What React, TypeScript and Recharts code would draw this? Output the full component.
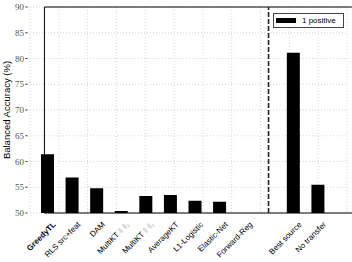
import React from 'react';
import {
  ComposedChart,
  Bar,
  XAxis,
  YAxis,
  CartesianGrid,
  ReferenceLine,
  ReferenceArea,
} from 'recharts';

// category slots, the empty one holds the dashed separator
const CATEGORIES = [
  'GreedyTL',
  'RLS src+feat',
  'DAM',
  'MultiKT ‖·‖₂',
  'MultiKT ‖·‖₁',
  'AverageKT',
  'L1-Logistic',
  'Elastic-Net',
  'Forward-Reg',
  'sep',
  'Best source',
  'No transfer',
];
const ONE_POSITIVE = [61.4, 56.9, 54.8, 50.4, 53.3, 53.5, 52.4, 52.2, 50, null, 81.1, 55.5];
const Y_TICKS = [50, 55, 60, 65, 70, 75, 80, 85, 90];
const GRID_X = [1, 2, 3, 4, 5, 6, 7, 8, 9, 10, 11, 12];

const data = CATEGORIES.map((c, i) => ({ name: c, v: ONE_POSITIVE[i] }));

const SANS = '"Liberation Sans", Arial, sans-serif';
const SERIF = '"Liberation Serif", "Times New Roman", serif';

const XTick = ({ x, y, payload }: any) => {
  const label: string = payload.value;
  if (label === 'sep') return null;
  const bold = label === 'GreedyTL';
  const parts = label.startsWith('MultiKT') ? ['MultiKT ', label.slice(8)] : [label];
  return (
    <text
      x={x + 9}
      y={y + 4}
      transform={`rotate(-45 ${x + 9} ${y + 4})`}
      textAnchor="end"
      fontFamily={SANS}
      fontSize={8}
      fontWeight={bold ? 'bold' : 'normal'}
      fill="#000"
    >
      {parts[0]}
      {parts[1] && <tspan fill="#bbb">{parts[1]}</tspan>}
    </text>
  );
};

const YTick = ({ x, y, payload }: any) => (
  <g>
    <text x={x - 1} y={y + 3} textAnchor="end" fontFamily={SERIF} fontSize={9} fill="#555">
      {payload.value}
    </text>
    <line x1={x} x2={x + 3} y1={y} y2={y} stroke="#000" strokeWidth={0.6} />
  </g>
);

const LegendBox = () => (
  <div
    style={{
      position: 'absolute',
      left: 273,
      top: 13,
      width: 69,
      height: 13,
      border: '1px solid #444',
      background: '#fff',
      display: 'flex',
      alignItems: 'center',
      fontFamily: SANS,
      fontSize: 8,
      color: '#000',
    }}
  >
    <span style={{ display: 'inline-block', width: 20, height: 5, background: '#000', marginLeft: 2, marginRight: 6 }} />
    1 positive
  </div>
);

export default function App() {
  return (
    <div style={{ position: 'absolute', left: 0, top: 0, width: 352, height: 262, background: '#fff' }}>
      <ComposedChart
        width={352}
        height={262}
        data={data}
        margin={{ top: 7, right: 5, left: 0, bottom: 0 }}
      >
        <CartesianGrid vertical={false} stroke="#d4d4d4" strokeDasharray="1 2" />
        <CartesianGrid horizontal={false} xAxisId="grid" stroke="#d4d4d4" strokeDasharray="1 2" />
        <XAxis
          dataKey="name"
          interval={0}
          height={49}
          padding={{ left: 5, right: 17 }}
          tick={<XTick />}
          tickLine={false}
          axisLine={false}
        />
        <XAxis
          xAxisId="grid"
          type="number"
          domain={[0.5, 13.4]}
          ticks={GRID_X}
          hide
          allowDataOverflow
        />
        <YAxis
          domain={[50, 90]}
          ticks={Y_TICKS}
          interval={0}
          width={30}
          tickSize={3}
          tick={<YTick />}
          tickLine={false}
          axisLine={false}
          allowDataOverflow
          label={{
            value: 'Balanced Accuracy (%)',
            angle: -90,
            position: 'insideLeft',
            offset: 0,
            dx: 7,
            style: { fontFamily: SANS, fontSize: 9.5, fill: '#000', textAnchor: 'middle' },
          }}
        />
        <Bar dataKey="v" fill="#000" barSize={13} isAnimationActive={false} />
        <ReferenceLine x="sep" stroke="#222" strokeWidth={1.6} strokeDasharray="5 2" />
        <ReferenceArea
          xAxisId="grid"
          x1={0.5}
          x2={13.4}
          y1={50}
          y2={90}
          fill="none"
          stroke="#000"
          strokeWidth={1}
          ifOverflow="visible"
        />
      </ComposedChart>
      <LegendBox />
    </div>
  );
}
